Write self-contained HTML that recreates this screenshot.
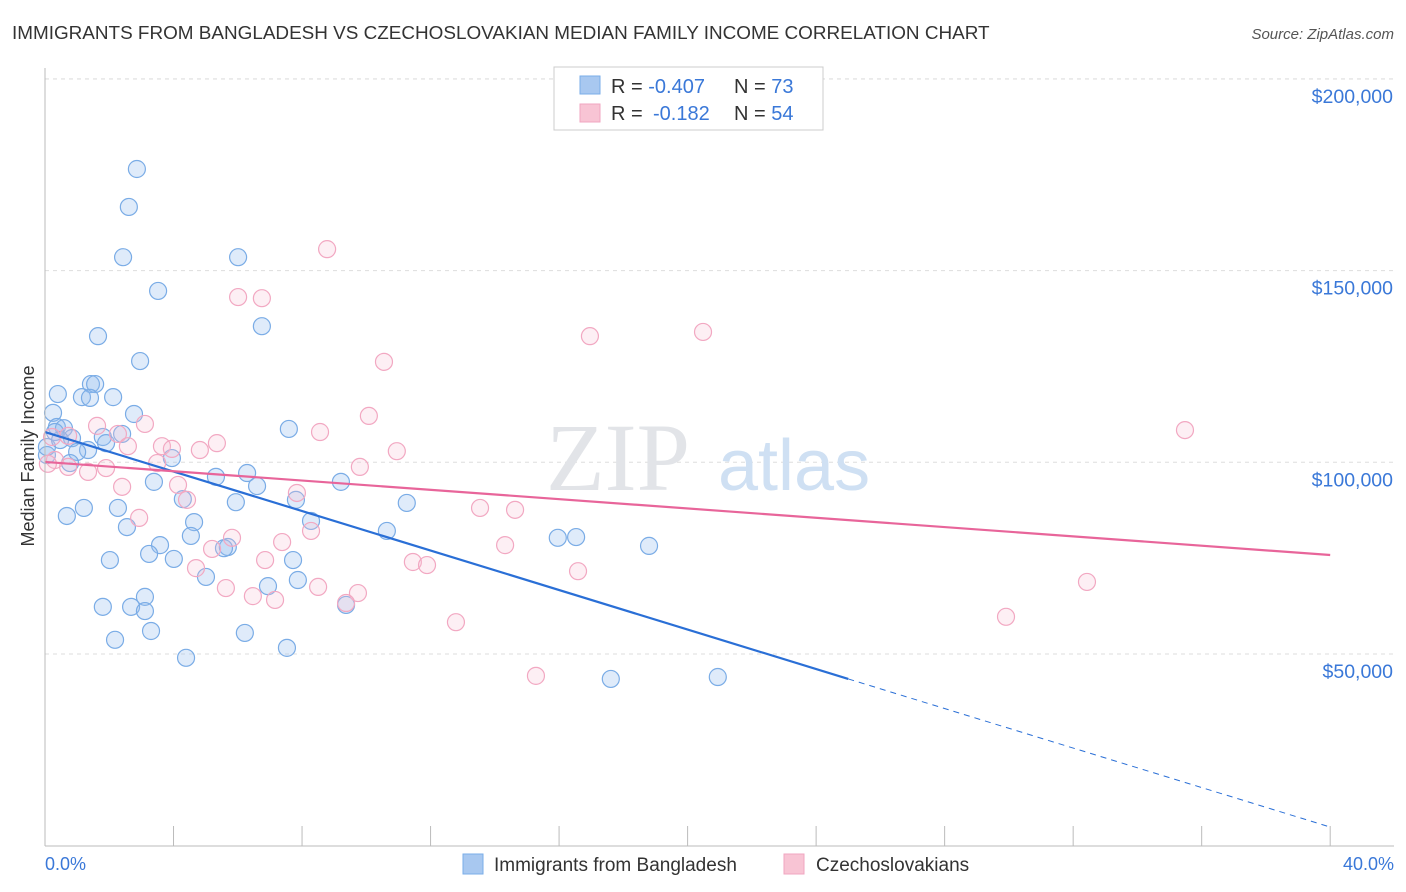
<!DOCTYPE html>
<html><head><meta charset="utf-8">
<style>
body{margin:0;background:#fff;font-family:"Liberation Sans",sans-serif;}
svg{display:block}
</style></head>
<body>
<svg id="chart" width="1406" height="892">
<text x="12" y="39" font-size="18.9" fill="#333">IMMIGRANTS FROM BANGLADESH VS CZECHOSLOVAKIAN MEDIAN FAMILY INCOME CORRELATION CHART</text>
<text x="1394" y="39" font-size="15" fill="#555" text-anchor="end" font-style="italic">Source: ZipAtlas.com</text>
<g id="grid"></g>
<text x="690" y="490" font-size="96" fill="#e2e4e8" text-anchor="end" font-family="Liberation Serif">ZIP</text>
<text x="718" y="490" font-size="72" fill="#cfe0f3">atlas</text>
<g id="pts"></g>
<g id="trend"></g>
<line x1="45" y1="68" x2="45" y2="846" stroke="#bbb"/>
<line x1="45" y1="846" x2="1394" y2="846" stroke="#bbb"/>
<g id="xt"></g><g id="yt"></g>
<text x="45" y="870" font-size="18" fill="#3a78d8">0.0%</text>
<text x="1394" y="870" font-size="18" fill="#3a78d8" text-anchor="end">40.0%</text>
<text transform="translate(34,456) rotate(-90)" font-size="18" fill="#333" text-anchor="middle">Median Family Income</text>
<g>
<rect x="554" y="67" width="269" height="63" fill="#fff" stroke="#ccc"/>
<rect x="580" y="76" width="20" height="18" fill="#a8c8f0" stroke="#7aaee8"/>
<rect x="580" y="104" width="20" height="18" fill="#f8c4d4" stroke="#f0a6c0"/>
<text x="611" y="93" font-size="20" fill="#333">R = <tspan fill="#3a78d8">-0.407</tspan><tspan x="734">N = </tspan><tspan fill="#3a78d8">73</tspan></text>
<text x="611" y="120" font-size="20" fill="#333">R = <tspan x="653" fill="#3a78d8">-0.182</tspan><tspan x="734">N = </tspan><tspan fill="#3a78d8">54</tspan></text>
</g>
<g>
<rect x="463" y="854" width="20" height="20" fill="#a8c8f0" stroke="#7aaee8"/>
<text x="494" y="871" font-size="19" fill="#333">Immigrants from Bangladesh</text></g>
<g>
<rect x="784" y="854" width="20" height="20" fill="#f8c4d4" stroke="#f0a6c0"/>
<text x="816" y="871" font-size="19" fill="#333">Czechoslovakians</text></g>
</svg>
<script>
const blueX=[2.86,2.61,2.43,6.01,3.52,6.75,1.65,2.96,0.40,1.43,1.56,1.15,1.40,2.12,0.25,2.77,7.59,0.37,0.59,0.31,1.80,2.40,0.84,1.90,1.34,1.00,3.95,0.78,0.06,5.32,6.29,6.60,3.39,4.29,5.94,7.81,11.26,9.21,1.21,2.27,0.68,4.64,8.28,2.55,10.64,4.54,3.58,15.96,16.53,18.80,5.69,5.57,3.24,4.01,2.02,7.72,5.01,6.94,7.87,3.11,1.80,2.68,3.11,9.37,3.30,2.18,6.22,7.53,4.39,17.61,20.94,0.06,0.47];
const blueY=[176.5,166.6,153.5,153.5,144.7,135.5,132.9,126.4,117.8,120.4,120.4,117.0,116.8,117.0,112.9,112.6,108.7,109.2,108.9,107.9,106.6,107.4,106.3,105.0,103.2,102.7,101.1,99.8,101.9,96.2,97.2,93.8,94.9,90.4,89.6,90.2,89.4,94.9,88.1,88.1,86.0,84.4,84.7,83.1,82.1,80.8,78.4,80.3,80.5,78.2,77.9,77.6,76.1,74.8,74.5,74.5,70.1,67.7,69.3,64.9,62.3,62.3,61.2,62.8,56.0,53.7,55.5,51.6,49.0,43.5,44.0,104.0,105.8];
const pinkX=[8.78,6.01,6.75,16.96,20.48,10.55,10.08,35.48,1.62,3.11,8.56,2.27,0.72,0.22,3.64,3.95,5.35,4.82,2.58,10.95,0.31,3.49,1.34,1.90,9.80,0.09,2.40,4.14,4.42,7.84,2.93,8.28,13.54,14.63,5.82,5.20,7.38,14.32,6.85,11.45,11.89,4.70,16.59,5.63,8.50,6.47,7.16,9.74,32.43,9.37,29.91,12.79,15.28,0.72];
const pinkY=[155.6,143.1,142.8,132.9,134.0,126.2,112.1,108.4,109.5,110.0,107.9,107.4,106.9,106.6,104.2,103.5,105.0,103.2,104.2,102.9,100.6,99.8,97.5,98.5,98.8,99.6,93.6,94.1,90.2,92.0,85.5,82.1,88.1,87.6,80.3,77.4,79.2,78.4,74.5,74.0,73.2,72.4,71.6,67.2,67.5,65.1,64.1,65.9,68.8,63.3,59.7,58.3,44.3,98.8];
const yTicks=[50,100,150,200];
const yTickLabels=["$50,000","$100,000","$150,000","$200,000"];
const xTicks=[0,4,8,12,16,20,24,28,32,36,40];
const blueTrend=[107.9,-2.576];
const pinkTrend=[100.1,-0.607];
const NS="http://www.w3.org/2000/svg";
const sx=v=>45+v*32.13;
const sy=v=>654-(v-50)*3.834;
function mk(t,a,p){const e=document.createElementNS(NS,t);for(const k in a)e.setAttribute(k,a[k]);p.appendChild(e);return e;}
const grid=document.getElementById('grid'),yt=document.getElementById('yt'),xt=document.getElementById('xt');
yTicks.forEach((v,i)=>{
 const l=mk('line',{x1:45,x2:1394,y1:sy(v),y2:sy(v),stroke:'#ddd','stroke-dasharray':'4,4'},grid);
 
 
 const t=mk('text',{x:1393,y:sy(v)+24,'font-size':19.5,fill:'#3a78d8','text-anchor':'end'},yt);
 t.textContent=yTickLabels[i];
 
 
});
mk('line',{x1:45,x2:1394,y1:79,y2:79,stroke:'#ddd','stroke-dasharray':'4,4'},grid);
xTicks.forEach(v=>{
 const l=mk('line',{x1:sx(v),x2:sx(v),y1:826,y2:846,stroke:'#bbb'},xt);
 
 
});
const pts=document.getElementById('pts');
blueX.forEach((x,i)=>{
 const c=mk('circle',{cx:sx(x),cy:sy(blueY[i]),r:8.5,fill:'rgba(150,190,240,0.3)',stroke:'#7aace6','stroke-width':1.2},pts);
 
 
});
pinkX.forEach((x,i)=>{
 const c=mk('circle',{cx:sx(x),cy:sy(pinkY[i]),r:8.5,fill:'rgba(248,190,210,0.25)',stroke:'#f2a8c2','stroke-width':1.2},pts);
 
 
});
const tr=document.getElementById('trend');
const bl=x=>blueTrend[0]+blueTrend[1]*x, pl=x=>pinkTrend[0]+pinkTrend[1]*x;
let a=mk('line',{x1:sx(0),y1:sy(bl(0)),x2:sx(25),y2:sy(bl(25)),stroke:'#2a6fd6','stroke-width':2.2},tr);


a=mk('line',{x1:sx(25),y1:sy(bl(25)),x2:sx(40),y2:sy(bl(40)),stroke:'#2a6fd6','stroke-width':1,'stroke-dasharray':'6,5'},tr);


a=mk('line',{x1:sx(0),y1:sy(pl(0)),x2:sx(40),y2:sy(pl(40)),stroke:'#e8659a','stroke-width':2.2},tr);


</script>
</body></html>
